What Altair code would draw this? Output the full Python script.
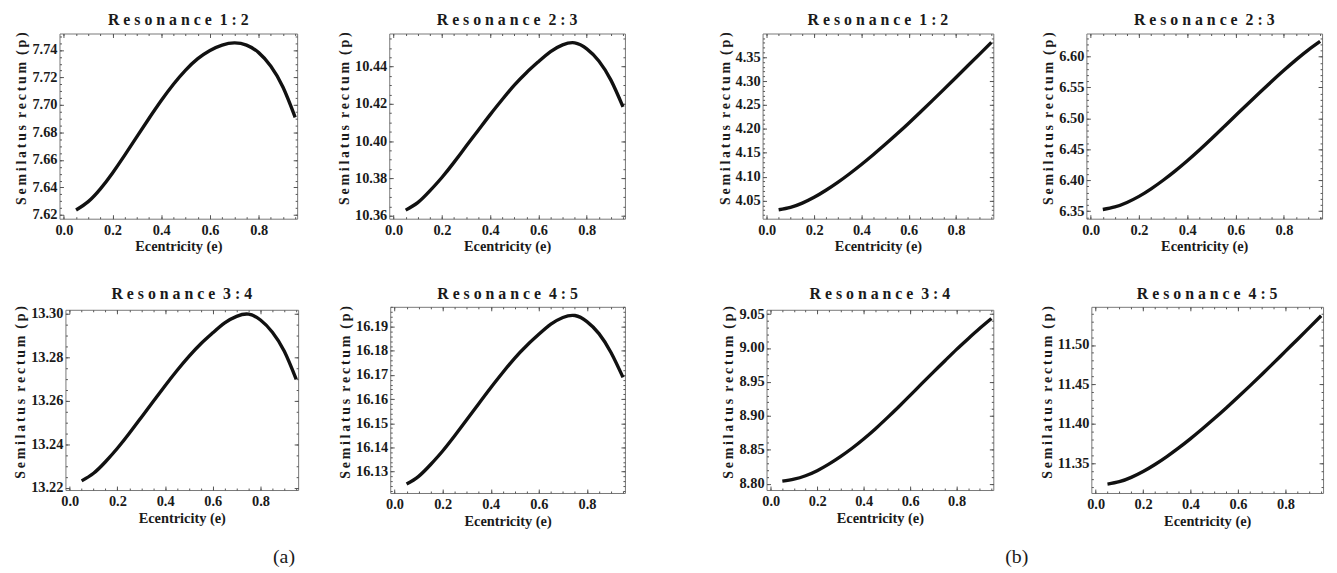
import altair as alt
import pandas as pd
import numpy as np

FONT = "Liberation Serif"
INK = "#1a1a1a"
TICK = "#555555"

# ---- data ----
ECC = [0.05, 0.10, 0.15, 0.20, 0.25, 0.30, 0.35, 0.40, 0.45, 0.50,
       0.55, 0.60, 0.65, 0.70, 0.75, 0.80, 0.85, 0.90, 0.95]

A_12 = [7.6236, 7.6297, 7.6390, 7.6506, 7.6635, 7.6770, 7.6904, 7.7033, 7.7151, 7.7254,
        7.7337, 7.7397, 7.7436, 7.7452, 7.7436, 7.7381, 7.7282, 7.7129, 7.6910]
A_23 = [10.3630, 10.3670, 10.3733, 10.3805, 10.3886, 10.3972, 10.4057, 10.4142, 10.4223, 10.4300,
        10.4367, 10.4426, 10.4480, 10.4516, 10.4527, 10.4495, 10.4430, 10.4327, 10.4184]
A_34 = [13.2231, 13.2266, 13.2319, 13.2381, 13.2450, 13.2523, 13.2596, 13.2669, 13.2739, 13.2804,
        13.2862, 13.2912, 13.2958, 13.2988, 13.2998, 13.2971, 13.2915, 13.2827, 13.2698]
A_45 = [16.1248, 16.1280, 16.1329, 16.1385, 16.1448, 16.1514, 16.1581, 16.1647, 16.1710, 16.1770,
        16.1822, 16.1868, 16.1910, 16.1938, 16.1946, 16.1921, 16.1871, 16.1793, 16.1690]

B_12 = [4.0310, 4.0360, 4.0449, 4.0570, 4.0717, 4.0882, 4.1063, 4.1256, 4.1460, 4.1672,
        4.1892, 4.2119, 4.2353, 4.2591, 4.2832, 4.3075, 4.3319, 4.3564, 4.3810]
B_23 = [6.3526, 6.3567, 6.3640, 6.3738, 6.3860, 6.3999, 6.4151, 6.4315, 6.4489, 6.4671,
        6.4858, 6.5046, 6.5234, 6.5418, 6.5600, 6.5777, 6.5946, 6.6104, 6.6245]
B_34 = [8.8038, 8.8067, 8.8117, 8.8191, 8.8287, 8.8398, 8.8522, 8.8659, 8.8807, 8.8966,
        8.9131, 8.9301, 8.9474, 8.9644, 8.9812, 8.9980, 9.0138, 9.0291, 9.0435]
B_45 = [11.3235, 11.3265, 11.3320, 11.3394, 11.3483, 11.3584, 11.3694, 11.3812, 11.3937, 11.4066,
        11.4200, 11.4339, 11.4481, 11.4626, 11.4773, 11.4922, 11.5070, 11.5220, 11.5370]

TITLES = ["Resonance 1:2", "Resonance 2:3", "Resonance 3:4", "Resonance 4:5"]
X_TITLE = "Ecentricity (e)"
Y_TITLE = "Semilatus rectum (p)"
PANEL_LABELS = ["(a)", "(b)"]

X_TICKS = [0.0, 0.2, 0.4, 0.6, 0.8]
Y_TICKS_A12 = [7.62, 7.64, 7.66, 7.68, 7.70, 7.72, 7.74]
Y_TICKS_A23 = [10.36, 10.38, 10.40, 10.42, 10.44]
Y_TICKS_A34 = [13.22, 13.24, 13.26, 13.28, 13.30]
Y_TICKS_A45 = [16.13, 16.14, 16.15, 16.16, 16.17, 16.18, 16.19]
Y_TICKS_B12 = [4.05, 4.10, 4.15, 4.20, 4.25, 4.30, 4.35]
Y_TICKS_B23 = [6.35, 6.40, 6.45, 6.50, 6.55, 6.60]
Y_TICKS_B34 = [8.80, 8.85, 8.90, 8.95, 9.00, 9.05]
Y_TICKS_B45 = [11.35, 11.40, 11.45, 11.50]

X_DOMAIN = [-0.018, 0.958]


def minor_ticks(dom, step):
    start = np.floor(dom[0] / step) * step
    vals = np.arange(start, dom[1] + step, step)
    return [float(round(v, 5)) for v in vals if dom[0] <= v <= dom[1]]


def spaced_title(t):
    word, ratio = t.split(" ")
    return " ".join(word) + "\u00a0 " + " ".join(ratio)


def spaced_axis_title(t):
    return "\u00a0 ".join("\u2009".join(w) for w in t.split(" "))


COMMON = dict(domain=False, grid=False, tickColor=TICK, tickWidth=1)


def panel(title, vals, ydom, yticks, ystep, w, h, toff=4):
    df = pd.DataFrame({"e": ECC, "p": vals})
    xs = alt.Scale(domain=X_DOMAIN, nice=False, zero=False)
    ys = alt.Scale(domain=ydom, nice=False, zero=False)
    base = alt.Chart(df)
    xminor = minor_ticks(X_DOMAIN, 0.05)
    yminor = minor_ticks(ydom, ystep)

    ax_b = alt.Axis(orient="bottom", values=X_TICKS, format=".1f", tickSize=4, offset=-4,
                    labelPadding=5, labelFont=FONT, labelFontSize=14.5, labelFontWeight="bold",
                    labelColor=INK, labelFlush=False, labelOverlap=False,
                    title=X_TITLE, titleFont=FONT, titleFontSize=14.5, titleFontWeight="bold",
                    titleColor=INK, titlePadding=3, **COMMON)
    ax_l = alt.Axis(orient="left", values=yticks, format=".2f", tickSize=4, offset=-4,
                    labelPadding=2.5, labelFont=FONT, labelFontSize=14.5, labelFontWeight="bold",
                    labelColor=INK, labelFlush=False, labelOverlap=False,
                    title=spaced_axis_title(Y_TITLE), titleFont=FONT, titleFontSize=14,
                    titleFontWeight="bold", titleColor=INK, titlePadding=3,
                    titleY=h / 2 - 8, **COMMON)
    mb = alt.Axis(orient="bottom", values=xminor, labels=False, tickSize=2, offset=-2, title=None, **COMMON)
    ml = alt.Axis(orient="left", values=yminor, labels=False, tickSize=2, offset=-2, title=None, **COMMON)
    tt = alt.Axis(orient="top", values=X_TICKS, labels=False, tickSize=4, offset=-4, title=None, **COMMON)
    tr = alt.Axis(orient="right", values=yticks, labels=False, tickSize=4, offset=-4, title=None, **COMMON)
    mt = alt.Axis(orient="top", values=xminor, labels=False, tickSize=2, offset=-2, title=None, **COMMON)
    mr = alt.Axis(orient="right", values=yminor, labels=False, tickSize=2, offset=-2, title=None, **COMMON)

    def ghost(ax_x, ax_y):
        return base.mark_line(opacity=0).encode(
            x=alt.X("e:Q", scale=xs, axis=ax_x), y=alt.Y("p:Q", scale=ys, axis=ax_y))

    main = base.mark_line(color="#111111", strokeWidth=3.4, interpolate="natural").encode(
        x=alt.X("e:Q", scale=xs, axis=ax_b), y=alt.Y("p:Q", scale=ys, axis=ax_l))

    return alt.layer(ghost(mb, ml), ghost(tt, tr), ghost(mt, mr), main).resolve_axis(
        x="independent", y="independent").properties(
        width=w, height=h,
        title=alt.TitleParams(text=spaced_title(title), font=FONT, fontSize=16, fontWeight="bold",
                              color=INK, offset=toff, anchor="middle"))


def spacer(w, h=1):
    return alt.Chart(pd.DataFrame({"v": [0]})).mark_point(opacity=0).properties(
        width=w, height=h, view=alt.ViewBackground(stroke="transparent"))


a1 = panel(TITLES[0], A_12, [7.6173, 7.7520], Y_TICKS_A12, 0.005, 240, 187)
a2 = panel(TITLES[1], A_23, [10.3584, 10.4577], Y_TICKS_A23, 0.005, 238, 187)
a3 = panel(TITLES[2], A_34, [13.2189, 13.3018], Y_TICKS_A34, 0.005, 235, 182)
a4 = panel(TITLES[3], A_45, [16.1211, 16.1982], Y_TICKS_A45, 0.002, 237, 188)
b1 = panel(TITLES[0], B_12, [4.0123, 4.3994], Y_TICKS_B12, 0.01, 233, 187)
b2 = panel(TITLES[1], B_23, [6.3377, 6.6373], Y_TICKS_B23, 0.01, 238, 187)
b3 = panel(TITLES[2], B_34, [8.7906, 9.0563], Y_TICKS_B34, 0.01, 229, 182)
b4 = panel(TITLES[3], B_45, [11.3122, 11.5484], Y_TICKS_B45, 0.01, 234, 188)

row1 = alt.hconcat(a1, spacer(92.7), a2, spacer(139), b1, spacer(94), b2,
                   spacing=0, bounds="flush")
row2 = alt.hconcat(spacer(6), a3, spacer(92.4), a4, spacer(142.3), b3, spacer(99), b4,
                   spacing=0, bounds="flush", center=True)

grid = alt.vconcat(row1, row2, spacing=31)

labels = alt.Chart(pd.DataFrame({"lab": PANEL_LABELS})).mark_text(
    font=FONT, fontSize=20, color=INK, dy=17).encode(
    x=alt.X("lab:N", scale=alt.Scale(type="point", padding=0.3064), axis=None),
    text="lab:N").properties(width=1193.4, height=22, view=alt.ViewBackground(stroke="transparent"))

chart = alt.vconcat(grid, labels, spacing=0).properties(
    padding={"left": 5, "top": 0, "right": 0, "bottom": 0}
).configure_view(stroke="#777777", strokeWidth=1)

chart.save("out.html", embed_options={"renderer": "svg", "actions": False})
